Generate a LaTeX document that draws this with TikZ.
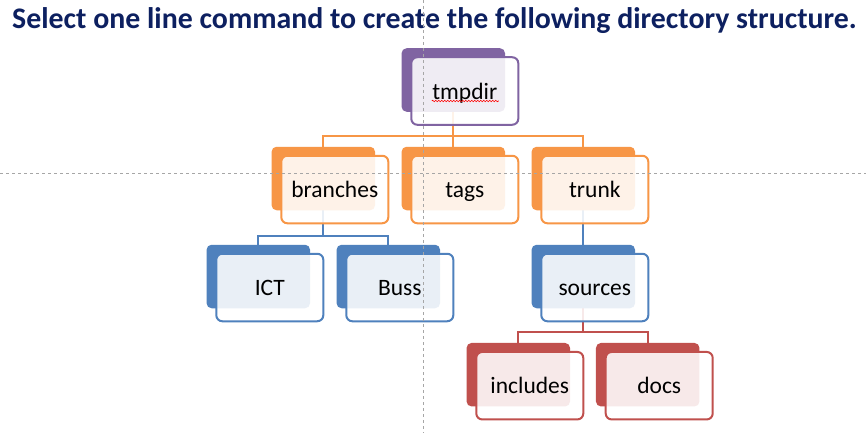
\documentclass[tikz,border=0pt]{standalone}
\usepackage{fontspec}
\setmainfont{Carlito}
\usetikzlibrary{decorations.pathmorphing}
\definecolor{cpur}{HTML}{8064A2}
\definecolor{corg}{HTML}{F79646}
\definecolor{cblu}{HTML}{4F81BD}
\definecolor{cred}{HTML}{C0504D}
\definecolor{ctitle}{HTML}{0D2060}
\pgfdeclarelayer{bg}
\pgfsetlayers{bg,main}
\tikzset{
 backbox/.style={rectangle, rounded corners=5pt, fill=#1, minimum width=103.5pt, minimum height=63.5pt, inner sep=0pt},
 frontbox/.style={rectangle, rounded corners=6pt, draw=#1, line width=2pt, fill=white, fill opacity=0.88, text opacity=1, draw opacity=1, minimum width=107pt, minimum height=67.5pt, inner sep=0pt, text height=16.5pt, text depth=0pt, font=\fontsize{23.5}{28}\selectfont, text=black},
 link/.style={draw=#1, line width=2pt},
 guide/.style={draw=black!35, line width=0.8pt, dash pattern=on 3pt off 3pt},
}
\newcommand\dirbox[5]{%
 \node[backbox=#4] (#1-b) at (#2,#3) {};
 \node[frontbox=#4, xshift=11.5pt, yshift=-11pt] (#1) at (#1-b.center) {#5};
}
\begin{document}
\begin{tikzpicture}[x=1pt,y=-1pt]
\useasboundingbox (0,0) rectangle (866,433);
\node[anchor=base west, inner sep=0pt, font=\bfseries\fontsize{29.85}{34}\selectfont, text=ctitle] (title) at (12,29) {Select one line command to create the following directory structure.};

\dirbox{tmp}{453.3}{80}{cpur}{tmpdir}
\dirbox{br}{323.3}{178.5}{corg}{branches}
\dirbox{tags}{453.3}{178.5}{corg}{tags}
\dirbox{trunk}{583.3}{178.5}{corg}{trunk}
\dirbox{ict}{258.3}{276.5}{cblu}{ICT}
\dirbox{buss}{388.3}{276.5}{cblu}{Buss}
\dirbox{src}{583.3}{276.5}{cblu}{sources}
\dirbox{inc}{518.3}{374.7}{cred}{includes}
\dirbox{docs}{647.7}{374.7}{cred}{docs}

\begin{pgfonlayer}{bg}
 \fill[white] (0,0) rectangle (866,433);
 \path (tmp-b.center) ++(0,55.5) coordinate (j1);
 \path (br-b.center) ++(0,57.5) coordinate (j2);
 \path (src-b.center) ++(0,55.5) coordinate (j3);
 \draw[link=corg] (tmp-b.center) -- (j1) -| (br-b.north);
 \draw[link=corg] (j1) -- (tags-b.north);
 \draw[link=corg] (j1) -| (trunk-b.north);
 \draw[link=cblu] (br-b.center) -- (j2) -| (ict-b.north);
 \draw[link=cblu] (j2) -| (buss-b.north);
 \draw[link=cblu] (trunk-b.center) -- (src-b.north);
 \draw[link=cred] (src-b.center) -- (j3) -| (inc-b.north);
 \draw[link=cred] (j3) -| (docs-b.north);
\end{pgfonlayer}

\draw[red, line width=0.6pt, decorate, decoration={snake, amplitude=0.8pt, segment length=3pt}] (tmp.center) ++(-33,10) -- ++(67,0);

\coordinate (gv1) at (423,0);
\coordinate (gv2) at (423,433);
\coordinate (gh1) at (0,173.5);
\coordinate (gh2) at (866,173.5);
\draw[guide] (gv1) -- (gv2);
\draw[guide] (gh1) -- (gh2);
\end{tikzpicture}
\end{document}
